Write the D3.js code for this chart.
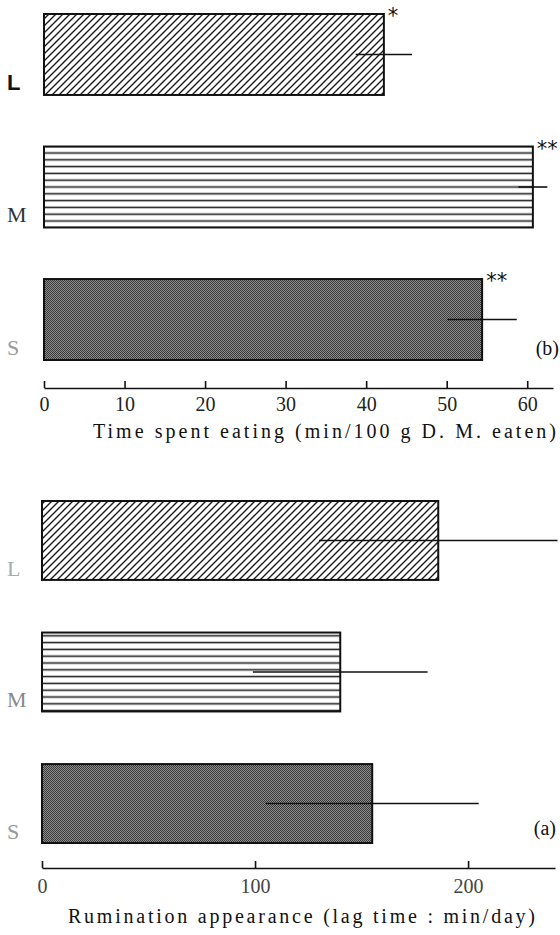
<!DOCTYPE html>
<html>
<head>
<meta charset="utf-8">
<script src="https://cdn.jsdelivr.net/npm/d3@7"></script>
<style>
  html, body { margin: 0; padding: 0; background: #fff; }
  svg { display: block; }
  text { font-family: "Liberation Serif", "DejaVu Serif", serif; }
</style>
</head>
<body>
<svg id="chart" width="560" height="935"></svg>
<script>
// ---- Data ----
const categories = ["L", "M", "S"];

// Panel (b): time spent eating (min/100 g D.M. eaten)
const eatingValues = [42.2, 60.7, 54.4];
const eatingErrors = [3.5, 1.8, 4.3];
const eatingStars = ["*", "**", "**"];
const eatingTicks = [0, 10, 20, 30, 40, 50, 60];
const eatingTitle = "Time spent eating (min/100 g D. M. eaten)";

// Panel (a): rumination appearance (lag time: min/day)
const ruminationValues = [186, 140, 155];
const ruminationErrors = [56, 41, 50];
const ruminationStars = ["", "", ""];
const ruminationTicks = [0, 100, 200];
const ruminationTitle = "Rumination appearance (lag time : min/day)";

const svg = d3.select("#chart");
const defs = svg.append("defs");

// Patterns
const hatch = defs.append("pattern").attr("id", "pat-L")
  .attr("patternUnits", "userSpaceOnUse").attr("width", 7).attr("height", 7);
hatch.append("rect").attr("width", 7).attr("height", 7).attr("fill", "#fff");
hatch.append("path").attr("d", "M-1,8 L8,-1 M-1,1 L1,-1 M6,8 L8,6")
  .attr("stroke", "#1a1a1a").attr("stroke-width", 1.4);

const horiz = defs.append("pattern").attr("id", "pat-M")
  .attr("patternUnits", "userSpaceOnUse").attr("width", 8).attr("height", 6.8);
horiz.append("rect").attr("width", 8).attr("height", 6.8).attr("fill", "#fff");
horiz.append("rect").attr("y", 2.6).attr("width", 8).attr("height", 1.6).attr("fill", "#222");

const dots = defs.append("pattern").attr("id", "pat-S")
  .attr("patternUnits", "userSpaceOnUse").attr("width", 2).attr("height", 2);
dots.append("rect").attr("width", 2).attr("height", 2).attr("fill", "#8c8c8c");
dots.append("rect").attr("width", 1).attr("height", 1).attr("fill", "#3a3a3a");
dots.append("rect").attr("x", 1).attr("y", 1).attr("width", 1).attr("height", 1).attr("fill", "#3a3a3a");

const fills = { L: "url(#pat-L)", M: "url(#pat-M)", S: "url(#pat-S)" };

function panel(cfg) {
  const x = d3.scaleLinear().domain(cfg.domain).range(cfg.xRange);
  const y = d3.scaleBand().domain(categories).range(cfg.yRange)
    .paddingInner(cfg.padding).paddingOuter(0);
  const g = svg.append("g");
  const rows = categories.map((c, i) => ({
    cat: c, v: cfg.values[i], e: cfg.errors[i], star: cfg.stars[i],
    labelColor: cfg.labelColors[i], labelFont: cfg.labelFonts[i], labelWeight: cfg.labelWeights[i]
  }));

  // Bars
  g.selectAll("rect.bar").data(rows).join("rect").attr("class", "bar")
    .attr("x", x(0)).attr("y", d => y(d.cat))
    .attr("width", d => x(d.v) - x(0)).attr("height", y.bandwidth())
    .attr("fill", d => fills[d.cat])
    .attr("stroke", "#111").attr("stroke-width", 2);

  // Error bars
  g.selectAll("line.err").data(rows).join("line").attr("class", "err")
    .attr("x1", d => x(d.v - d.e)).attr("x2", d => x(d.v + d.e))
    .attr("y1", d => y(d.cat) + y.bandwidth() / 2)
    .attr("y2", d => y(d.cat) + y.bandwidth() / 2)
    .attr("stroke", "#111").attr("stroke-width", 1.6);

  // Significance stars
  g.selectAll("text.star").data(rows.filter(d => d.star)).join("text").attr("class", "star")
    .attr("x", d => x(d.v) + 4).attr("y", d => y(d.cat) + 9)
    .attr("font-size", 21).style("font-family", '"DejaVu Sans", sans-serif')
    .attr("fill", "#111").text(d => d.star);

  // Category labels
  g.selectAll("text.cat").data(rows).join("text").attr("class", "cat")
    .attr("x", 7).attr("y", d => y(d.cat) + y.bandwidth() - cfg.labelLift)
    .attr("font-size", 22)
    .style("font-family", d => d.labelFont)
    .attr("font-weight", d => d.labelWeight)
    .attr("fill", d => d.labelColor).text(d => d.cat);

  // Axis
  const axis = d3.axisBottom(x).tickValues(cfg.ticks).tickSizeInner(-7)
    .tickSizeOuter(0).tickPadding(cfg.tickPadding).tickFormat(d3.format("d"));
  const ag = g.append("g").attr("transform", `translate(0,${cfg.axisY})`).call(axis);
  ag.select(".domain").attr("stroke", "#111").attr("stroke-width", 1.6);
  ag.selectAll(".tick line").attr("stroke", "#111").attr("stroke-width", 1.6);
  ag.selectAll(".tick text").attr("font-size", 20)
    .style("font-family", '"Liberation Serif", serif').attr("fill", cfg.tickColor);

  // Axis title
  g.append("text").attr("x", cfg.titleX).attr("y", cfg.titleY)
    .attr("font-size", 20).attr("fill", "#111")
    .attr("textLength", cfg.titleLen).attr("lengthAdjust", "spacing")
    .text(cfg.title);

  // Panel letter
  g.append("text").attr("x", cfg.letterX).attr("y", cfg.letterY)
    .attr("text-anchor", "end").attr("font-size", 20).attr("fill", "#111")
    .text(cfg.letter);
}

panel({
  values: eatingValues, errors: eatingErrors, stars: eatingStars, ticks: eatingTicks,
  domain: [0, 63.2], xRange: [44, 553], yRange: [14, 360], padding: 0.389,
  axisY: 388, tickPadding: 9, tickColor: "#222",
  title: eatingTitle, titleX: 93, titleY: 438, titleLen: 463,
  letter: "(b)", letterX: 559, letterY: 355, labelLift: 5,
  labelColors: ["#111", "#333", "#9a9a9a"],
  labelFonts: ['"Liberation Sans", Arial, sans-serif', '"Liberation Serif", serif', '"Liberation Serif", serif'],
  labelWeights: ["bold", "normal", "normal"]
});

panel({
  values: ruminationValues, errors: ruminationErrors, stars: ruminationStars, ticks: ruminationTicks,
  domain: [0, 240.8], xRange: [42, 555], yRange: [501, 843], padding: 0.4,
  axisY: 868, tickPadding: 11, tickColor: "#444",
  title: ruminationTitle, titleX: 68, titleY: 923, titleLen: 467,
  letter: "(a)", letterX: 556, letterY: 835, labelLift: 4,
  labelColors: ["#aaa", "#888", "#999"],
  labelFonts: ['"Liberation Serif", serif', '"Liberation Serif", serif', '"Liberation Serif", serif'],
  labelWeights: ["normal", "normal", "normal"]
});
</script>
</body>
</html>
